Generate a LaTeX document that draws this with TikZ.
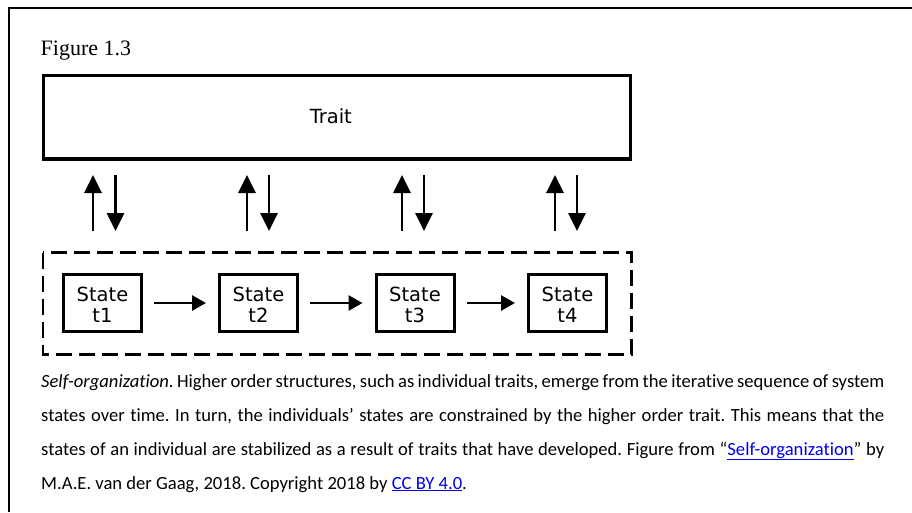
\documentclass[tikz,border=0pt]{standalone}
\usepackage{fontspec}
\usepackage{xcolor}
\usetikzlibrary{arrows.meta}
\newfontfamily\figfont{Liberation Serif}
\newfontfamily\boxfont{DejaVu Sans}
\newfontfamily\capfont[Ligatures={NoCommon}]{Carlito}
\definecolor{linkblue}{RGB}{0,0,238}
\newcommand{\lnk}[1]{{\color{linkblue}\underline{#1}}}
\frenchspacing
\begin{document}
\begin{tikzpicture}[x=1pt,y=-1pt,
  frameline/.style={line width=2.4pt},
  traitbox/.style={draw,line width=3.5pt,rectangle,minimum width=587pt,minimum height=83.5pt,inner sep=0pt},
  statebox/.style={draw,line width=3pt,rectangle,minimum width=78pt,minimum height=57pt,inner sep=0pt},
  statetext/.style={align=center,inner sep=0pt,font=\boxfont\fontsize{19.5pt}{21.5pt}\selectfont},
  groupbox/.style={draw,line width=2.8pt,dash pattern=on 16pt off 7pt},
  varrow/.style={line width=2.8pt,-{Triangle[length=18pt,width=17pt]}},
  harrow/.style={line width=2.8pt,-{Triangle[length=14pt,width=15pt]},shorten <=11pt,shorten >=12pt},
  capline/.style={anchor=base west,inner sep=0pt,font=\capfont\fontsize{18.6pt}{22pt}\selectfont}]
\useasboundingbox (0,0) rectangle (912,512);
\fill[white] (0,0) rectangle (912,512);

% page frame (top and left rules)
\draw[frameline] (8.7,512) -- (8.7,8) -- (912,8);

% figure number
\node[anchor=base west,inner sep=0pt,font=\figfont\fontsize{22pt}{26pt}\selectfont] (fignum) at (40.5,55) {Figure 1.3};

% trait box
\node[traitbox] (trait) at (337,117.3) {};
\node[inner sep=0pt,font=\boxfont\fontsize{19.5pt}{21pt}\selectfont] (traitlabel) at (330.8,116.7) {Trait};

% states group
\draw[groupbox] (43,252.5) rectangle (631.5,354.3);
\foreach \i/\x in {1/102.5, 2/258.5, 3/415, 4/567.5} {
  \node[statebox] (s\i) at (\x,303) {};
  \node[statetext] (s\i label) at (\x,305) {State\\t\i};
}

\draw[harrow] (s1) -- (s2);
\draw[harrow] (s2) -- (s3);
\draw[harrow] (s3) -- (s4);

% feedback between states and trait
\foreach \i/\u/\d in {1/93/115.5, 2/247/269, 3/402/424, 4/555/577} {
  \coordinate (up\i b) at (\u,231);
  \coordinate (up\i t) at (\u,175);
  \coordinate (dn\i t) at (\d,175);
  \coordinate (dn\i b) at (\d,231);
  \draw[varrow] (up\i b) -- (up\i t);
  \draw[varrow] (dn\i t) -- (dn\i b);
}

% caption
\node[capline] (cap1) at (41,387) {\makebox[843pt][s]{\textit{Self-organization}. Higher order structures, such as individual traits, emerge from the iterative sequence of system}};
\node[capline] (cap2) at (41,421) {\makebox[843pt][s]{states over time. In turn, the individuals’ states are constrained by the higher order trait. This means that the}};
\node[capline] (cap3) at (41,455) {\makebox[843pt][s]{states of an individual are stabilized as a result of traits that have developed. Figure from “\lnk{Self-organization}” by}};
\node[capline] (cap4) at (41,489) {M.A.E. van der Gaag, 2018. Copyright 2018 by \lnk{CC BY 4.0}.};
\end{tikzpicture}
\end{document}
